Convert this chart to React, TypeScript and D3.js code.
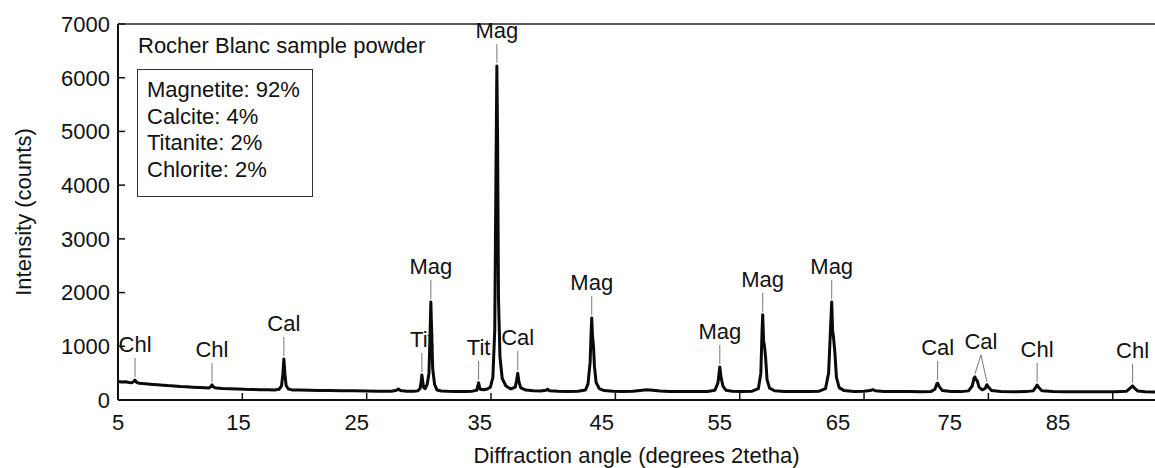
import { line, scaleLinear, curveLinear, mean } from 'd3';

// diffraction scan: [angle 2θ, counts]
const scan: [number, number][] = [
  [5.0, 345], [5.3, 335], [5.6, 338], [5.9, 325], [6.1, 322], [6.25, 340], [6.37, 372], [6.5, 330],
  [6.7, 312], [7.0, 305], [7.4, 298], [7.8, 290], [8.2, 282], [8.6, 276], [9.0, 268], [9.5, 262],
  [10.0, 252], [10.5, 246], [11.0, 238], [11.5, 232], [12.0, 228], [12.3, 224], [12.45, 245],
  [12.56, 282], [12.68, 240], [12.9, 222], [13.4, 214], [14.0, 208], [14.6, 204], [15.2, 198],
  [15.8, 196], [16.4, 192], [17.0, 190], [17.6, 188], [17.95, 200], [18.15, 260], [18.26, 480],
  [18.34, 765], [18.42, 500], [18.52, 270], [18.7, 205], [19.0, 188], [19.6, 184], [20.4, 180],
  [21.2, 178], [22.0, 176], [23.0, 172], [24.0, 170], [25.0, 168], [26.0, 165], [27.0, 164],
  [27.4, 180], [27.55, 205], [27.7, 178], [28.2, 162], [28.8, 162], [29.1, 170], [29.3, 215],
  [29.38, 340], [29.44, 465], [29.5, 360], [29.58, 235], [29.7, 210], [29.86, 285], [30.01, 500],
  [30.1, 1240], [30.16, 1825], [30.22, 1330], [30.31, 580], [30.46, 290], [30.66, 185], [31.0, 168],
  [31.5, 162], [32.2, 160], [32.9, 160], [33.5, 165], [33.85, 180], [34.0, 320], [34.12, 200],
  [34.4, 190], [34.7, 205], [34.95, 240], [35.15, 420], [35.3, 1300], [35.4, 4300], [35.47, 6220],
  [35.53, 4800], [35.6, 1900], [35.72, 800], [35.9, 400], [36.2, 260], [36.6, 205], [36.95, 240],
  [37.05, 360], [37.15, 500], [37.25, 330], [37.4, 225], [37.8, 185], [38.4, 172], [39.0, 168],
  [39.4, 180], [39.55, 200], [39.7, 172], [40.4, 162], [41.2, 160], [42.0, 162], [42.6, 185],
  [42.8, 300], [42.97, 700], [43.05, 1250], [43.1, 1525], [43.16, 1200], [43.24, 1000], [43.32, 620],
  [43.45, 330], [43.7, 210], [44.1, 175], [44.8, 163], [45.6, 160], [46.4, 165], [47.0, 178],
  [47.5, 190], [48.0, 180], [48.6, 168], [49.4, 160], [50.4, 158], [51.4, 158], [52.4, 160],
  [53.0, 180], [53.25, 320], [53.4, 615], [53.5, 420], [53.65, 260], [53.9, 180], [54.4, 162],
  [55.2, 158], [56.0, 165], [56.5, 210], [56.7, 500], [56.8, 1300], [56.85, 1585], [56.92, 1100],
  [57.0, 990], [57.08, 800], [57.2, 380], [57.4, 220], [57.8, 172], [58.6, 160], [59.6, 158],
  [60.6, 158], [61.4, 165], [61.9, 210], [62.15, 500], [62.3, 1300], [62.4, 1825], [62.47, 1300],
  [62.55, 1150], [62.65, 900], [62.78, 420], [63.0, 230], [63.4, 175], [64.2, 160], [65.0, 162],
  [65.5, 175], [65.7, 195], [65.9, 172], [66.6, 160], [67.6, 156], [68.6, 156], [69.6, 155],
  [70.4, 160], [70.7, 200], [70.85, 300], [70.92, 315], [71.05, 250], [71.3, 175], [72.0, 158],
  [72.8, 156], [73.4, 170], [73.7, 260], [73.85, 410], [73.92, 430], [74.0, 380], [74.1, 360],
  [74.25, 240], [74.5, 190], [74.75, 215], [74.88, 285], [75.0, 240], [75.25, 175], [76.0, 158],
  [77.0, 155], [78.0, 156], [78.6, 170], [78.85, 250], [78.92, 280], [79.05, 235], [79.3, 170],
  [80.2, 156], [81.2, 154], [82.2, 154], [83.2, 152], [84.2, 152], [85.2, 153], [86.1, 162],
  [86.45, 230], [86.6, 262], [86.75, 220], [87.0, 168], [87.6, 152], [88.4, 150],
];

const peakLabels = [
  { name: 'Chl', angles: [6.37], counts: 372 },
  { name: 'Chl', angles: [12.56], counts: 282 },
  { name: 'Cal', angles: [18.34], counts: 765 },
  { name: 'Tit', angles: [29.44], counts: 465 },
  { name: 'Mag', angles: [30.16], counts: 1825 },
  { name: 'Tit', angles: [34.0], counts: 320 },
  { name: 'Mag', angles: [35.47], counts: 6220 },
  { name: 'Cal', angles: [37.15], counts: 500 },
  { name: 'Mag', angles: [43.1], counts: 1525 },
  { name: 'Mag', angles: [53.4], counts: 615 },
  { name: 'Mag', angles: [56.85], counts: 1585 },
  { name: 'Mag', angles: [62.4], counts: 1825 },
  { name: 'Cal', angles: [70.92], counts: 315 },
  { name: 'Cal', angles: [73.92, 74.88], counts: 430 },
  { name: 'Chl', angles: [78.92], counts: 280 },
  { name: 'Chl', angles: [86.6], counts: 262 },
];

const minerals = ['Magnetite', 'Calcite', 'Titanite', 'Chlorite'];
const percents = [92, 4, 2, 2];

const xTicks = [5, 15, 25, 35, 45, 55, 65, 75, 85];
// the printed labels drift left of their ticks in the source figure
const xTickLabelAt = [5, 14.7, 24.2, 34.1, 43.9, 53.4, 62.9, 71.9, 80.6];
const yTicks = [0, 1000, 2000, 3000, 4000, 5000, 6000, 7000];

const FONT = '"Liberation Sans", Arial, sans-serif';

export default function App() {
  const width = 1155;
  const height = 468;
  const left = 118;
  const top = 24;
  const bottom = 400;

  const x = scaleLinear().domain([5, 88.4]).range([left, width]);
  const y = scaleLinear().domain([0, 7000]).range([bottom, top]);

  const path = line<[number, number]>()
    .x((d) => x(d[0]))
    .y((d) => y(d[1]))
    .curve(curveLinear)(scan);

  return (
    <svg
      width={width}
      height={height}
      viewBox={`0 0 ${width} ${height}`}
      style={{ position: 'absolute', left: 0, top: 0, background: '#fff' }}
      fontFamily={FONT}
      fontSize={22}
    >
      {/* frame */}
      <line x1={left} x2={width} y1={top} y2={top} stroke="#222" strokeWidth={1.3} />
      <line x1={left} x2={left} y1={top} y2={bottom} stroke="#111" strokeWidth={2} />
      <line x1={left} x2={width} y1={bottom} y2={bottom} stroke="#111" strokeWidth={2} />

      {/* y ticks */}
      {yTicks.map((t) => (
        <g key={`y${t}`}>
          <line x1={left} x2={left + 7} y1={y(t)} y2={y(t)} stroke="#111" strokeWidth={1.5} />
          <text x={110} y={y(t)} dy="0.36em" textAnchor="end" fill="#111">
            {t}
          </text>
        </g>
      ))}

      {/* x ticks */}
      {xTicks.map((t, i) => (
        <g key={`x${t}`}>
          <line x1={x(t)} x2={x(t)} y1={bottom} y2={bottom - 7} stroke="#111" strokeWidth={1.5} />
          <text x={x(xTickLabelAt[i])} y={430} textAnchor="middle" fill="#111">
            {t}
          </text>
        </g>
      ))}

      {/* axis titles */}
      <text x={(left + width) / 2} y={463} textAnchor="middle" fill="#111">
        Diffraction angle (degrees 2tetha)
      </text>
      <text transform={`translate(31, ${(top + bottom) / 2}) rotate(-90)`} textAnchor="middle" fill="#111">
        Intensity (counts)
      </text>

      {/* pattern */}
      <path d={path || ''} fill="none" stroke="#0a0a0a" strokeWidth={3} strokeLinejoin="round" />

      {/* peak labels */}
      {peakLabels.map((p, i) => {
        const peakY = y(p.counts);
        const lx = x(mean(p.angles) || p.angles[0]);
        return (
          <g key={`p${i}`}>
            {p.angles.map((a, j) => {
              const py = p.angles.length > 1 ? y(scan.find((d) => d[0] === a)?.[1] ?? p.counts) : peakY;
              return (
                <line
                  key={j}
                  x1={lx}
                  x2={x(a)}
                  y1={peakY - 22}
                  y2={py - 3}
                  stroke="#777"
                  strokeWidth={1}
                />
              );
            })}
            <text x={lx} y={peakY - 28} textAnchor="middle" fill="#111">
              {p.name}
            </text>
          </g>
        );
      })}

      {/* sample legend */}
      <text x={138} y={53} fill="#111">
        Rocher Blanc sample powder
      </text>
      <rect x={137.5} y={69.5} width={175} height={127} fill="#fff" stroke="#333" strokeWidth={1} />
      {minerals.map((m, i) => (
        <text key={m} x={147} y={97 + i * 26.7} fill="#111">
          {`${m}: ${percents[i]}%`}
        </text>
      ))}
    </svg>
  );
}
